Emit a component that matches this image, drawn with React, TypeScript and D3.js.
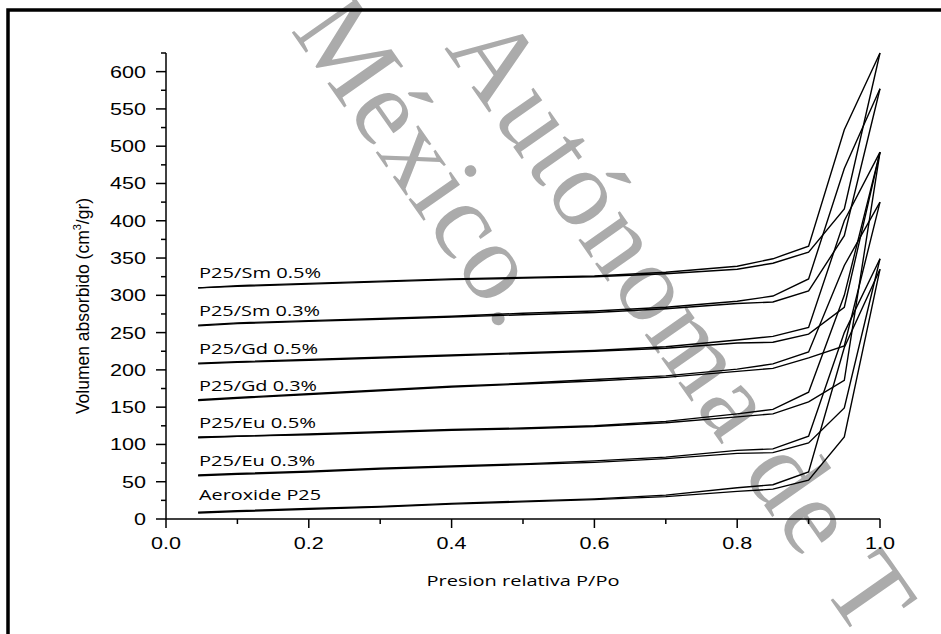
import React, { useEffect } from 'react';
import * as d3 from 'd3';

// relative pressure points, adsorption goes up, desorption comes back down
const adsP = [0.045, 0.1, 0.2, 0.3, 0.4, 0.5, 0.6, 0.7, 0.8, 0.85, 0.9, 0.95, 1.0];
const desP = [1.0, 0.95, 0.9, 0.85, 0.8, 0.7, 0.6, 0.5, 0.4, 0.3, 0.2, 0.1, 0.045];

// volumes (cm3/gr), each sample shifted by 50 in the original figure
const sm05Ads = [310, 312, 315, 318, 321, 323, 325, 329, 335, 343, 358, 416, 625];
const sm05Des = [625, 522, 366, 349, 339, 331, 326, 324, 322, 319, 316, 313, 310];
const sm03Ads = [259, 262, 265, 268, 271, 274, 277, 282, 289, 291, 306, 380, 577];
const sm03Des = [577, 470, 322, 299, 292, 284, 279, 276, 272, 269, 266, 263, 260];
const gd05Ads = [208, 210, 213, 216, 219, 222, 225, 229, 236, 237, 248, 284, 492];
const gd05Des = [492, 400, 257, 245, 240, 231, 226, 223, 220, 217, 214, 211, 209];
const gd03Ads = [159, 162, 167, 172, 177, 181, 185, 190, 198, 202, 216, 232, 425];
const gd03Des = [425, 340, 224, 208, 201, 192, 187, 182, 178, 173, 168, 163, 160];
const eu05Ads = [109, 111, 113, 116, 119, 121, 124, 129, 137, 141, 157, 186, 492];
const eu05Des = [492, 300, 170, 147, 141, 131, 125, 122, 120, 117, 114, 111, 110];
const eu03Ads = [58, 60, 63, 67, 70, 73, 76, 81, 88, 89, 102, 149, 349];
const eu03Des = [349, 250, 111, 94, 92, 83, 78, 74, 71, 68, 64, 61, 59];
const aeroAds = [8, 10, 13, 16, 20, 23, 26, 30, 37, 40, 52, 110, 335];
const aeroDes = [335, 230, 63, 46, 42, 32, 27, 24, 21, 17, 14, 11, 9];

const seriesNames = ['P25/Sm 0.5%', 'P25/Sm 0.3%', 'P25/Gd 0.5%', 'P25/Gd 0.3%', 'P25/Eu 0.5%', 'P25/Eu 0.3%', 'Aeroxide P25'];
const seriesAds = [sm05Ads, sm03Ads, gd05Ads, gd03Ads, eu05Ads, eu03Ads, aeroAds];
const seriesDes = [sm05Des, sm03Des, gd05Des, gd03Des, eu05Des, eu03Des, aeroDes];

const yMajor = d3.range(0, 601, 50);
const yMinor = d3.range(25, 626, 50);
const xMajor = [0, 0.2, 0.4, 0.6, 0.8, 1.0];
const xMinor = [0.1, 0.3, 0.5, 0.7, 0.9];

const labelWidths = [122, 121, 119, 118, 117, 116, 122];

const App = () => {
  useEffect(() => {
    document.body.style.margin = '0';
  }, []);

  const width = 941;
  const height = 634;

  const x = d3.scaleLinear().domain([0, 1]).range([166, 880]);
  const y = d3.scaleLinear().domain([0, 625]).range([519, 53]);

  const line = d3
    .line<[number, number]>()
    .x((d) => x(d[0]))
    .y((d) => y(d[1]));

  const tickFont = { fontFamily: 'Liberation Sans, Arial, sans-serif', fontSize: 17 };

  return (
    <svg width={width} height={height} style={{ display: 'block', background: '#fff' }}>
      {/* watermark under everything */}
      <g fill="#ababab" style={{ fontFamily: 'Liberation Serif, Times New Roman, serif', fontSize: 110 }}>
        <text transform="translate(444,48) rotate(55)" letterSpacing={3}>Autónoma de T</text>
        <text transform="translate(290,30) rotate(55)" letterSpacing={1}>México.</text>
      </g>

      <rect x={8} y={10} width={1000} height={1000} fill="none" stroke="#000" strokeWidth={3.5} />

      {/* isotherms */}
      <g fill="none" stroke="#000" strokeWidth={1.4} strokeLinejoin="miter">
        {seriesAds.map((vals, i) => (
          <path key={'a' + i} d={line(adsP.map((p, j) => [p, vals[j]]) as [number, number][]) || ''} />
        ))}
        {seriesDes.map((vals, i) => (
          <path key={'d' + i} d={line(desP.map((p, j) => [p, vals[j]]) as [number, number][]) || ''} />
        ))}
      </g>

      {/* sample labels */}
      <g style={{ fontFamily: 'Open Sans, sans-serif', fontSize: 14 }} fill="#000">
        {seriesNames.map((name, i) => (
          <text
            key={name}
            x={199}
            y={y(seriesAds[i][0]) - (i === 6 ? 13 : 9.5)}
            textLength={labelWidths[i]}
            lengthAdjust="spacingAndGlyphs"
          >
            {name}
          </text>
        ))}
      </g>

      {/* y axis */}
      <g stroke="#000" strokeWidth={1.5}>
        <line x1={x(0)} x2={x(0)} y1={y(0)} y2={y(625)} />
        {yMajor.map((v) => (
          <line key={'ym' + v} x1={x(0) - 10} x2={x(0)} y1={y(v)} y2={y(v)} />
        ))}
        {yMinor.map((v) => (
          <line key={'yn' + v} x1={x(0) - 5} x2={x(0)} y1={y(v)} y2={y(v)} />
        ))}
      </g>
      <g style={tickFont} fill="#000" textAnchor="end">
        {yMajor.map((v) => (
          <text
            key={'yl' + v}
            x={146}
            y={y(v) + 6}
            textLength={String(v).length * 12}
            lengthAdjust="spacingAndGlyphs"
          >
            {v}
          </text>
        ))}
      </g>

      {/* x axis */}
      <g stroke="#000" strokeWidth={1.5}>
        <line x1={x(0)} x2={x(1)} y1={y(0)} y2={y(0)} />
        {xMajor.map((v) => (
          <line key={'xm' + v} x1={x(v)} x2={x(v)} y1={y(0)} y2={y(0) + 9} />
        ))}
        {xMinor.map((v) => (
          <line key={'xn' + v} x1={x(v)} x2={x(v)} y1={y(0)} y2={y(0) + 5} />
        ))}
      </g>
      <g style={tickFont} fill="#000" textAnchor="middle">
        {xMajor.map((v) => (
          <text key={'xl' + v} x={x(v)} y={549} textLength={30} lengthAdjust="spacingAndGlyphs">
            {v.toFixed(1)}
          </text>
        ))}
      </g>

      {/* axis titles */}
      <text
        x={(x(0) + x(1)) / 2}
        y={586}
        textAnchor="middle"
        style={{ fontFamily: 'Open Sans, sans-serif', fontSize: 15 }}
        textLength={193}
        lengthAdjust="spacingAndGlyphs"
      >
        Presion relativa P/Po
      </text>
      <text
        transform="translate(89,306) rotate(-90)"
        textAnchor="middle"
        style={{ fontFamily: 'Liberation Sans, Arial, sans-serif', fontSize: 17.5 }}
      >
        Volumen absorbido (cm
        <tspan dy={-8} fontSize={11}>3</tspan>
        <tspan dy={8}>/gr)</tspan>
      </text>
    </svg>
  );
};

export default App;
